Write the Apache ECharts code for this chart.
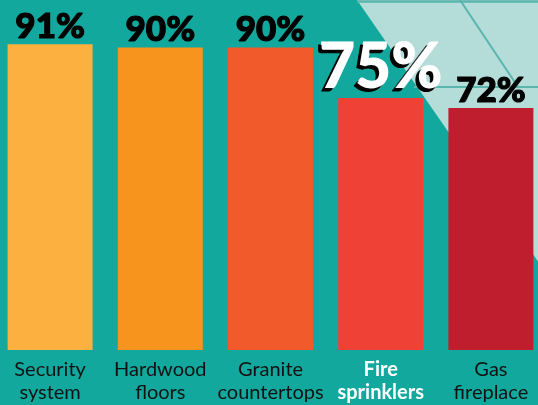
<!DOCTYPE html>
<html>
<head>
<meta charset="utf-8">
<script src="https://cdn.jsdelivr.net/npm/echarts@6/dist/echarts.min.js"></script>
<style>
html,body{margin:0;padding:0;background:#13a89e;overflow:hidden;width:538px;height:405px;position:relative;}
#c{width:551px;height:405px;position:absolute;left:-5px;top:0;}
</style>
</head>
<body>
<div id="c"></div>
<script>
const categories = ['Security\nsystem', 'Hardwood\nfloors', 'Granite\ncountertops', 'Fire\nsprinklers', 'Gas\nfireplace'];
const values = [91, 90, 90, 75, 72];
const barColors = ['#fbb040', '#f7941d', '#f15a2b', '#ef4136', '#be1e2d'];
const highlightIndex = 3;

const chart = echarts.init(document.getElementById('c'), null, {renderer: 'canvas'});

const data = values.map((v, i) => {
  const item = { value: v, itemStyle: { color: barColors[i] } };
  if (i === highlightIndex) {
    item.label = {
      formatter: '{s|{c}%}',
      distance: -1,
      rich: {
        s: {
          fontFamily: 'Lato',
          fontWeight: 900,
          fontSize: 62,
          color: '#ffffff',
          textBorderColor: '#ffffff',
          textBorderWidth: 1,
          textShadowColor: '#000000',
          textShadowOffsetX: -3,
          textShadowOffsetY: 3,
          textShadowBlur: 0.5
        }
      }
    };
  }
  return item;
});

const ox = 5; // container offset
chart.setOption({
  backgroundColor: '#13a89e',
  animation: false,
  graphic: [
    { type: 'polygon', z: -10, silent: true, shape: { points: [[357 + ox, 0], [560, 0], [560, 286]] }, style: { fill: '#b4dcd8' } },
    { type: 'line', z: -9, silent: true, shape: { x1: 357 + ox, y1: 1.5, x2: 560, y2: 1.5 }, style: { stroke: '#5ab5ad', lineWidth: 2.5 } },
    { type: 'line', z: -9, silent: true, shape: { x1: 460 + ox, y1: 0, x2: 518 + ox, y2: 87 }, style: { stroke: '#5ab5ad', lineWidth: 2 } },
    { type: 'line', z: -9, silent: true, shape: { x1: 414 + ox, y1: 87, x2: 560, y2: 87 }, style: { stroke: '#5ab5ad', lineWidth: 2 } }
  ],
  grid: { left: 0, right: 0, top: 14, bottom: 55, containLabel: false },
  xAxis: {
    type: 'category',
    data: categories,
    axisLine: { show: false },
    axisTick: { show: false },
    axisLabel: {
      interval: 0,
      margin: 8,
      fontFamily: 'Lato',
      fontSize: 20,
      lineHeight: 23,
      color: '#111111',
      formatter: (val, idx) => idx === highlightIndex ? '{h|' + val.split('\n').join('}\n{h|') + '}' : val,
      rich: {
        h: { fontFamily: 'Lato', fontSize: 20, fontWeight: 'bold', color: '#ffffff', lineHeight: 23 }
      }
    }
  },
  yAxis: {
    type: 'value',
    min: 0,
    max: 100,
    show: false,
    splitLine: { show: false }
  },
  series: [{
    type: 'bar',
    data: data,
    barWidth: 85,
    label: {
      show: true,
      position: 'top',
      distance: 0,
      formatter: '{c}%',
      fontFamily: 'Lato',
      fontWeight: 900,
      fontSize: 35,
      color: '#000000',
      textBorderColor: '#000000',
      textBorderWidth: 1.2
    }
  }]
});
</script>
</body>
</html>
